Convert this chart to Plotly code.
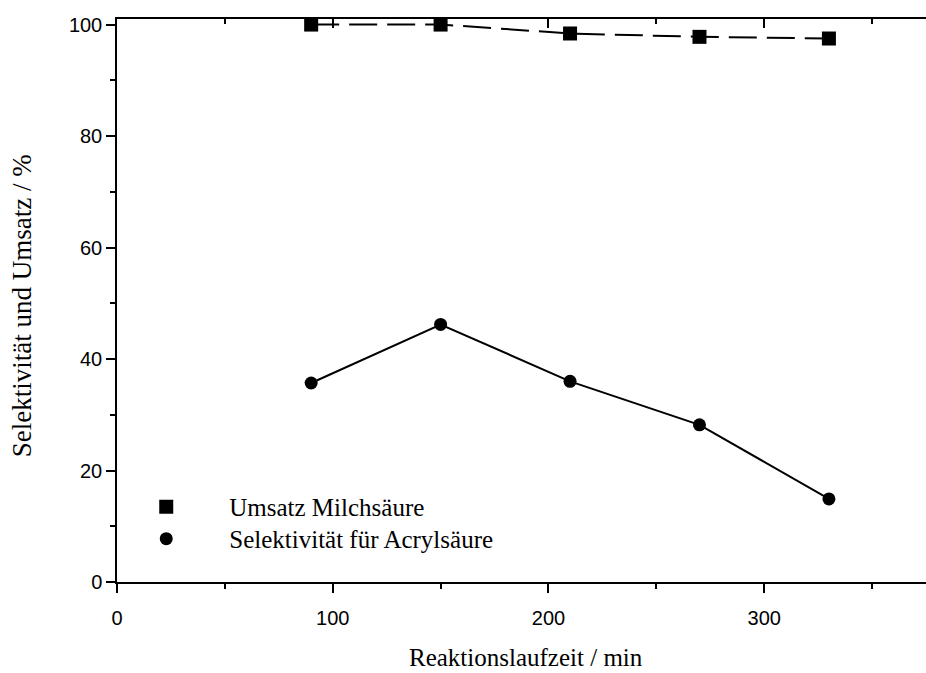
import plotly.graph_objects as go

time_min = [90, 150, 210, 270, 330]
umsatz = [100.0, 100.0, 98.4, 97.8, 97.5]
selektivitaet = [35.7, 46.2, 36.0, 28.2, 14.9]

name_umsatz = "Umsatz Milchsäure"
name_sel = "Selektivität für Acrylsäure"
x_title = "Reaktionslaufzeit / min"
y_title = "Selektivität und Umsatz / %"

serif = "Liberation Serif, Times New Roman, serif"
sans = "Liberation Sans, Arial, sans-serif"

fig = go.Figure()
fig.add_trace(go.Scatter(x=time_min, y=umsatz, mode="lines+markers",
                         line=dict(color="black", width=2, dash="28px,10px"),
                         marker=dict(symbol="square", size=14, color="black"),
                         showlegend=False))
fig.add_trace(go.Scatter(x=time_min, y=selektivitaet, mode="lines+markers",
                         line=dict(color="black", width=2),
                         marker=dict(symbol="circle", size=13, color="black"),
                         showlegend=False))
# legend entries (markers only)
fig.add_trace(go.Scatter(x=[None], y=[None], mode="markers", name=name_umsatz, legend="legend",
                         marker=dict(symbol="square", size=14, color="black")))
fig.add_trace(go.Scatter(x=[None], y=[None], mode="markers", name=name_sel, legend="legend2",
                         marker=dict(symbol="circle", size=13, color="black")))
# invisible trace for top axis
fig.add_trace(go.Scatter(x=[None], y=[None], xaxis="x2", showlegend=False, hoverinfo="skip"))

legend_common = dict(x=-0.017, xanchor="left", yanchor="top",
                     font=dict(family=serif, size=25, color="black"),
                     itemwidth=116, bgcolor="rgba(0,0,0,0)")

fig.update_layout(
    width=926, height=673,
    margin=dict(l=117, r=0, t=19, b=91),
    paper_bgcolor="white", plot_bgcolor="white",
    showlegend=True,
    legend=dict(y=0.1741, **legend_common),
    legend2=dict(y=0.1173, **legend_common),
    xaxis=dict(range=[0, 375], showgrid=False, zeroline=False,
               showline=True, linecolor="black", linewidth=1.5,
               ticks="outside", ticklen=9, tickwidth=1.5, tickcolor="black",
               tick0=0, dtick=100, ticklabelstandoff=8,
               minor=dict(ticks="outside", ticklen=5, tickwidth=1.5, tickcolor="black", dtick=50, showgrid=False),
               tickfont=dict(family=sans, size=20, color="black")),
    xaxis2=dict(range=[0, 375], overlaying="x", side="top", anchor="y",
                showgrid=False, zeroline=False, showline=True, linecolor="black", linewidth=1.5,
                ticks="inside", ticklen=9, tickwidth=1.5, tickcolor="black",
                tick0=0, dtick=100, showticklabels=False,
                minor=dict(ticks="inside", ticklen=5, tickwidth=1.5, tickcolor="black", dtick=50, showgrid=False)),
    yaxis=dict(range=[0, 101], showgrid=False, zeroline=False,
               showline=True, linecolor="black", linewidth=1.5,
               ticks="outside", ticklen=9, tickwidth=1.5, tickcolor="black",
               tick0=0, dtick=20,
               minor=dict(ticks="outside", ticklen=5, tickwidth=1.5, tickcolor="black", dtick=10, showgrid=False),
               tickfont=dict(family=sans, size=20, color="black")),
    annotations=[
        dict(text=x_title, xref="paper", yref="paper", x=0.505, y=-0.1333,
             xanchor="center", yanchor="middle", showarrow=False,
             font=dict(family=serif, size=25, color="black")),
        dict(text=y_title, xref="paper", yref="paper", x=-0.1174, y=0.49,
             xanchor="center", yanchor="middle", textangle=-90, showarrow=False,
             font=dict(family=serif, size=27, color="black")),
    ],
)

fig.write_html("out.html")
